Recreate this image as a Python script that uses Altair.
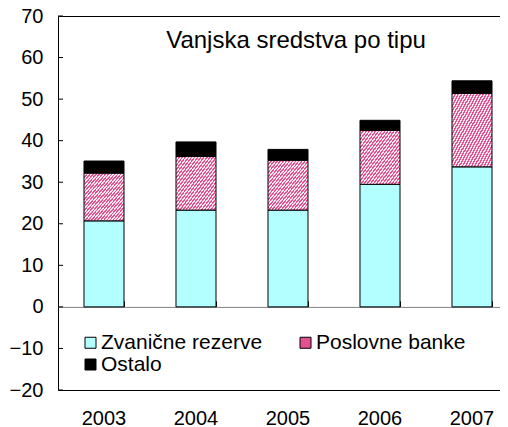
import altair as alt
import pandas as pd

title_text = ["Vanjska sredstva po tipu"]
years = ["2003", "2004", "2005", "2006", "2007"]
series = ["Zvanične rezerve", "Poslovne banke", "Ostalo"]
zvanicne = [20.7, 23.3, 23.3, 29.5, 33.7]
poslovne = [11.5, 12.9, 12.0, 13.0, 17.7]
ostalo = [2.9, 3.5, 2.6, 2.4, 3.0]
y_ticks = [-20, -10, 0, 10, 20, 30, 40, 50, 60, 70]

rows = []
for i, y in enumerate(years):
    for k, (s, vals) in enumerate(zip(series, [zvanicne, poslovne, ostalo])):
        rows.append({"year": y, "series": s, "value": vals[i], "idx": k})
df = pd.DataFrame(rows)

FONT = "Liberation Sans"
CYAN = "#B3FFFF"
PINK = "#E2528F"
PALE = "#FCE6EF"


def hatch(n):
    stops = []
    for j in range(n):
        a = j / n
        b = (j + 0.5) / n
        c = (j + 1) / n
        stops += [
            {"offset": a, "color": PINK},
            {"offset": b, "color": PINK},
            {"offset": b, "color": PALE},
            {"offset": c, "color": PALE},
        ]
    return {"gradient": "linear", "x1": 0, "y1": 0, "x2": 1, "y2": 1, "stops": stops}


bar_grad = hatch(26)
leg_grad = hatch(7)


def js(obj):
    if isinstance(obj, dict):
        return "{" + ",".join(f"{k}:{js(v)}" for k, v in obj.items()) + "}"
    if isinstance(obj, list):
        return "[" + ",".join(js(v) for v in obj) + "]"
    if isinstance(obj, str):
        return "'" + obj + "'"
    return repr(obj)


leg_expr = (
    f"datum.value === '{series[0]}' ? '{CYAN}' : "
    f"(datum.value === '{series[2]}' ? 'black' : {js(leg_grad)})"
)

x_scale = alt.Scale(paddingInner=0.565, paddingOuter=0.2825)
y_scale = alt.Scale(domain=[-20, 70], nice=False, zero=False)

bar_fill = {
    "condition": [
        {"test": f"datum.series === '{series[0]}'", "value": CYAN},
        {"test": f"datum.series === '{series[1]}'", "value": bar_grad},
    ],
    "value": "black",
}

bars = (
    alt.Chart(df)
    .mark_bar(stroke="black", strokeWidth=1)
    .encode(
        x=alt.X(
            "year:O",
            scale=x_scale,
            title=None,
            axis=alt.Axis(
                orient="bottom",
                domain=False,
                ticks=False,
                labelAngle=0,
                labelFontSize=20,
                labelFont=FONT,
                labelColor="black",
                labelPadding=18,
            ),
        ),
        y=alt.Y(
            "value:Q",
            stack="zero",
            scale=y_scale,
            title=None,
            axis=alt.Axis(
                values=y_ticks,
                domain=False,
                ticks=False,
                grid=False,
                labelFontSize=20,
                labelFont=FONT,
                labelColor="black",
                labelPadding=15,
            ),
        ),
        fill=bar_fill,
        order=alt.Order("idx:Q"),
    )
)

zero_axis = (
    alt.Chart(df)
    .mark_point(opacity=0, filled=True)
    .encode(
        x=alt.X(
            "year:O",
            scale=x_scale,
            title=None,
            axis=alt.Axis(
                orient="top",
                offset=-290.9,
                labels=False,
                domainColor="#808080",
                domainWidth=1,
                tickColor="black",
                tickWidth=1,
                tickSize=6,
                tickBand="extent",
            ),
        ),
        fill=alt.Fill(
            "series:N",
            scale=alt.Scale(domain=series, range=[CYAN, PINK, "black"]),
            legend=None,
        ),
        shape=alt.Shape(
            "series:N",
            scale=alt.Scale(domain=series, range=["square", "square", "square"]),
            legend=alt.Legend(
                title=None,
                orient="none",
                legendX=22,
                legendY=316,
                columns=2,
                direction="horizontal",
                symbolType="square",
                symbolSize=121,
                symbolFillColor={"expr": leg_expr},
                symbolStrokeColor="black",
                symbolStrokeWidth=1,
                symbolOpacity=1,
                labelFont=FONT,
                labelFontSize=21,
                labelColor="black",
                labelOffset=0,
                columnPadding=32,
                rowPadding=0,
                padding=0,
                labelLimit=300,
            ),
        ),
    )
)

y_tick_marks = (
    alt.Chart(pd.DataFrame({"t": y_ticks}))
    .mark_rule(color="black", strokeWidth=1)
    .encode(y=alt.Y("t:Q", scale=y_scale, title=None), x=alt.value(0), x2=alt.value(5))
)

title_layer = (
    alt.Chart(pd.DataFrame({"label": title_text}))
    .mark_text(font=FONT, fontSize=24, color="black", align="center", baseline="alphabetic")
    .encode(text="label:N", x=alt.value(238), y=alt.value(32))
)

chart = (
    alt.layer(zero_axis, bars, y_tick_marks, title_layer)
    .resolve_axis(x="independent")
    .properties(
        width=460,
        height=374,
        autosize=alt.AutoSizeParams(type="none"),
        padding={"left": 50, "top": 8, "right": -18, "bottom": 37},
    )
    .configure_view(stroke="black", strokeWidth=1)
)

chart.save("out.html", embed_options={"renderer": "svg", "actions": False})
